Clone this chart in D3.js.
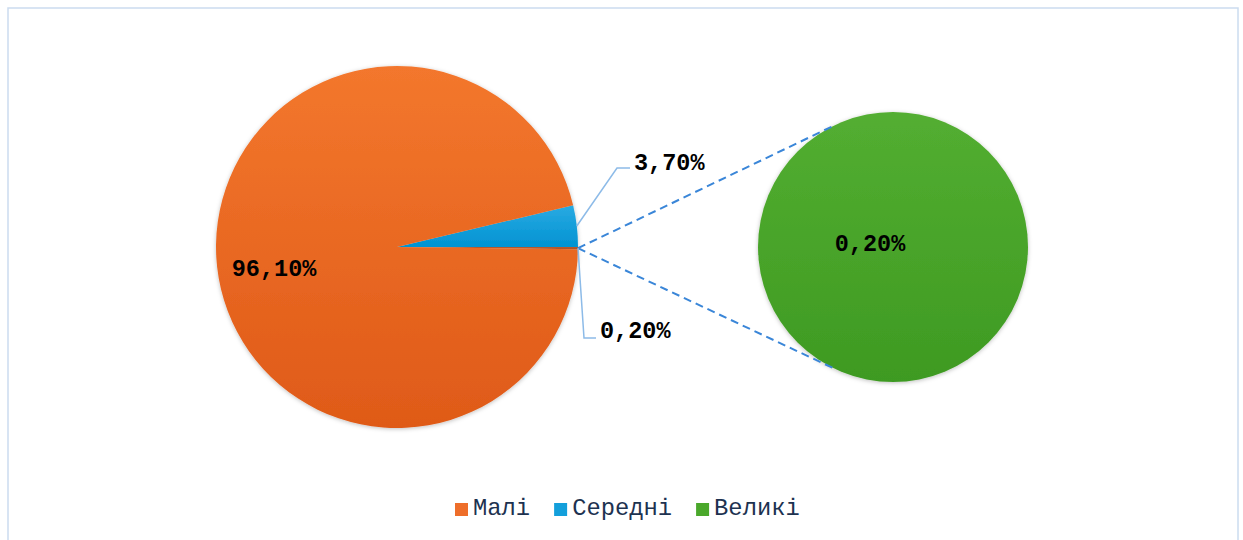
<!DOCTYPE html>
<html>
<head>
<meta charset="utf-8">
<script src="https://cdn.jsdelivr.net/npm/d3@7"></script>
<style>
  body { margin: 0; background: #fff; }
  svg { display: block; }
  .lbl { font-family: "Liberation Mono", "DejaVu Sans Mono", monospace; font-size: 23.5px; font-weight: bold; fill: #000; }
  .leg { font-family: "Liberation Mono", "DejaVu Sans Mono", monospace; font-size: 23.8px; fill: #1d3250; }
</style>
</head>
<body>
<div id="chart"></div>
<script>
var categories = ["Малі", "Середні", "Великі"];
var values = [96.1, 3.7, 0.2];          // percent
var labels = ["96,10%", "3,70%", "0,20%"];
var otherLabel = "0,20%";               // "other" wedge in main pie = Великі

var W = 1243, H = 540;
var mainC = [397, 247], mainR = 181;
var secC = [893, 247], secR = 135;

var svg = d3.select("#chart").append("svg")
    .attr("width", W).attr("height", H);

var defs = svg.append("defs");
function grad(id, c0, c1) {
  var g = defs.append("linearGradient").attr("id", id)
      .attr("x1", 0).attr("y1", 0).attr("x2", 0).attr("y2", 1);
  g.append("stop").attr("offset", "0%").attr("stop-color", c0);
  g.append("stop").attr("offset", "100%").attr("stop-color", c1);
}
grad("g0", "#f3772d", "#df5a18");
grad("g1", "#2aaae2", "#0093d2");
grad("g2", "#53ae31", "#3e9a22");
grad("g3", "#b85a2c", "#a8502a");
var fills = ["url(#g0)", "url(#g1)", "url(#g2)"];
var swatch = ["#ee6e2a", "#139fdb", "#4aa82b"];

var sh = defs.append("filter").attr("id", "sh")
    .attr("x", "-10%").attr("y", "-10%").attr("width", "120%").attr("height", "120%");
sh.append("feDropShadow").attr("dx", 0).attr("dy", 1).attr("stdDeviation", 2)
    .attr("flood-color", "#000").attr("flood-opacity", 0.25);

// frame
svg.append("rect").attr("x", 8).attr("y", 8).attr("width", 1230).attr("height", 540)
    .attr("fill", "none").attr("stroke", "#cbdcef").attr("stroke-width", 1.5);

// main pie: Середні, other(Великі), Малі
var mainData = [
  {name: categories[1], v: values[1], fill: fills[1]},
  {name: "other", v: values[2], fill: "url(#g3)"},
  {name: categories[0], v: values[0], fill: fills[0]}
];
var total = d3.sum(values);
var start = Math.PI / 2 - values[1] / total * 2 * Math.PI;
var pie = d3.pie().sort(null).value(function(d) { return d.v; })
    .startAngle(start).endAngle(start + 2 * Math.PI);
var arc = d3.arc().innerRadius(0).outerRadius(mainR);
var arcs = pie(mainData);

var gMain = svg.append("g").attr("transform", "translate(" + mainC + ")");
gMain.append("g").attr("filter", "url(#sh)").selectAll("path")
    .data(arcs).enter().append("path")
    .attr("d", arc)
    .attr("fill", function(d) { return d.data.fill; });

// secondary pie: only Великі
var gSec = svg.append("g").attr("transform", "translate(" + secC + ")");
var arc2 = d3.arc().innerRadius(0).outerRadius(secR);
gSec.append("g").attr("filter", "url(#sh)").selectAll("path")
    .data(d3.pie().sort(null)([values[2]])).enter().append("path")
    .attr("d", arc2)
    .attr("fill", fills[2]);

// dashed connectors: from edge point of other wedge to tangent points
var otherArc = arcs[1];
var pa = (otherArc.startAngle + otherArc.endAngle) / 2;
var P = [mainC[0] + mainR * Math.sin(pa), mainC[1] - mainR * Math.cos(pa)];
var dx = secC[0] - P[0], dy = secC[1] - P[1], dist = Math.sqrt(dx * dx + dy * dy);
var th = Math.acos(secR / dist), base = Math.atan2(P[1] - secC[1], P[0] - secC[0]);
[-1, 1].forEach(function(s) {
  var a = base + s * th;
  svg.append("line")
      .attr("x1", P[0]).attr("y1", P[1])
      .attr("x2", secC[0] + secR * Math.cos(a)).attr("y2", secC[1] + secR * Math.sin(a))
      .attr("stroke", "#3a86d8").attr("stroke-width", 2)
      .attr("stroke-dasharray", "8,5");
});

// leader lines
function edge(d, r) {
  var a = (d.startAngle + d.endAngle) / 2;
  return [mainC[0] + r * Math.sin(a), mainC[1] - r * Math.cos(a)];
}
var e1 = edge(arcs[0], mainR);
svg.append("polyline")
    .attr("points", [e1, [617, 168], [630, 168]].join(" "))
    .attr("fill", "none").attr("stroke", "#8dbbe8").attr("stroke-width", 1.5);
svg.append("text").attr("class", "lbl").attr("x", 634).attr("y", 170).text(labels[1]);

var e2 = edge(arcs[1], mainR);
svg.append("polyline")
    .attr("points", [e2, [584, 338], [596, 338]].join(" "))
    .attr("fill", "none").attr("stroke", "#8dbbe8").attr("stroke-width", 1.5);
svg.append("text").attr("class", "lbl").attr("x", 600).attr("y", 338).text(otherLabel);

// inside labels
var la = (arcs[2].startAngle + arcs[2].endAngle) / 2;
svg.append("text").attr("class", "lbl")
    .attr("x", mainC[0] + 125 * Math.sin(la) - 41)
    .attr("y", mainC[1] - 125 * Math.cos(la) + 15)
    .text(labels[0]);
svg.append("text").attr("class", "lbl").attr("text-anchor", "middle")
    .attr("x", secC[0] - 23).attr("y", secC[1] + 4)
    .text(labels[2]);

// legend
var leg = svg.append("g").attr("transform", "translate(455,515)");
var x = 0;
categories.forEach(function(c, i) {
  var g = leg.append("g").attr("transform", "translate(" + x + ",0)");
  g.append("rect").attr("x", 0).attr("y", -12).attr("width", 13).attr("height", 13)
      .attr("fill", swatch[i]);
  var t = g.append("text").attr("class", "leg").attr("x", 18).attr("y", 0).text(c);
  x += 18 + t.node().getComputedTextLength() + 24;
});
</script>
</body>
</html>
